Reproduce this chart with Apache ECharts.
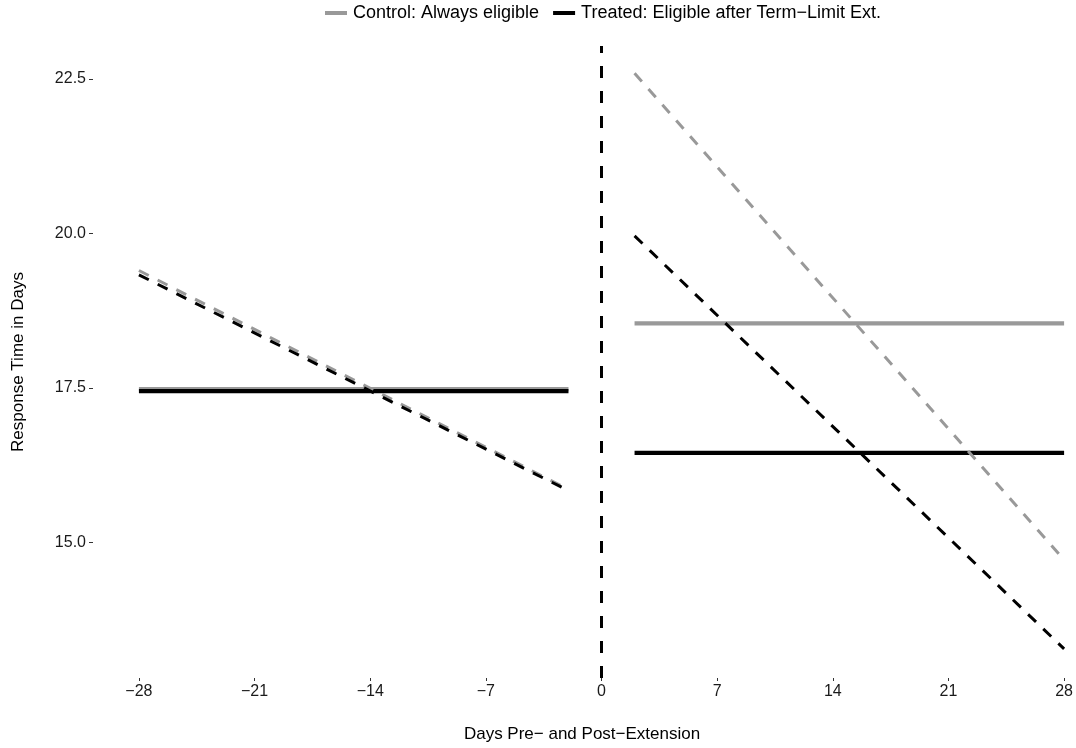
<!DOCTYPE html>
<html>
<head>
<meta charset="utf-8">
<script src="https://cdn.jsdelivr.net/npm/echarts@6/dist/echarts.min.js"></script>
<style>
html,body{margin:0;padding:0;background:#fff;}
#chart{width:1076px;height:748px;}
</style>
</head>
<body>
<div id="chart"></div>
<script>
// ---- data ----
var xTicks = [-28, -21, -14, -7, 0, 7, 14, 21, 28];
var yTicks = [15, 17.5, 20, 22.5];
var preDays = [-28, -2];
var postDays = [2, 28];
var cutoffDay = 0;

var controlName = 'Control: Always eligible';
var treatedName = 'Treated: Eligible after Term\u2212Limit Ext.';

// group means (flat) and linear trends (dashed), pre and post
var preControlMean = [17.48, 17.48];
var preTreatedMean = [17.45, 17.45];
var preControlTrend = [19.40, 15.86];
var preTreatedTrend = [19.33, 15.84];
var postControlMean = [18.545, 18.545];
var postTreatedMean = [16.45, 16.45];
var postControlTrend = [22.59, 14.72];
var postTreatedTrend = [19.96, 13.28];

function pts(xs, ys) { return xs.map(function (x, i) { return [x, ys[i]]; }); }

var GRAY = '#999999', BLACK = '#000000';
var FONT = 'Liberation Sans, Arial, Helvetica, sans-serif';

function seg(name, xs, ys, color, dashed) {
  return {
    type: 'line', name: name, data: pts(xs, ys), symbol: 'none', silent: true,
    lineStyle: { color: color, width: dashed ? 3 : 4.2, type: dashed ? [11, 10] : 'solid', cap: 'butt' },
    itemStyle: { color: color },
    emphasis: { disabled: true },
    animation: false
  };
}

var series = [
  seg(controlName, preDays, preControlMean, GRAY, false),
  seg(treatedName, preDays, preTreatedMean, BLACK, false),
  seg(controlName, postDays, postControlMean, GRAY, false),
  seg(treatedName, postDays, postTreatedMean, BLACK, false),
  seg(controlName, preDays, preControlTrend, GRAY, true),
  seg(treatedName, preDays, preTreatedTrend, BLACK, true),
  seg(controlName, postDays, postControlTrend, GRAY, true),
  seg(treatedName, postDays, postTreatedTrend, BLACK, true)
];
series[0].markLine = {
  silent: true, symbol: 'none', animation: false,
  label: { show: false },
  lineStyle: { color: BLACK, width: 3, type: [12, 13], cap: 'butt' },
  data: [{ xAxis: cutoffDay }]
};

var chart = echarts.init(document.getElementById('chart'), null, { renderer: 'canvas' });
chart.setOption({
  backgroundColor: '#ffffff',
  animation: false,
  textStyle: { fontFamily: FONT },
  legend: {
    data: [
      { name: controlName, icon: 'rect', itemStyle: { color: GRAY } },
      { name: treatedName, icon: 'rect', itemStyle: { color: BLACK } }
    ],
    left: 325, top: 4, padding: 0,
    itemWidth: 22, itemHeight: 4, itemGap: 14,
    selectedMode: false,
    textStyle: { fontSize: 18, color: '#000', fontFamily: FONT, padding: [0, 0, 0, 1] }
  },
  grid: { left: 93, right: 4, top: 46, bottom: 67 },
  xAxis: {
    type: 'value', min: -30.78, max: 28.42,
    name: 'Days Pre\u2212 and Post\u2212Extension',
    nameLocation: 'middle', nameGap: 48,
    nameTextStyle: { fontSize: 17, color: '#000', fontFamily: FONT },
    axisLine: { show: false, onZero: false },
    splitLine: { show: false },
    axisTick: { show: true, length: 3, customValues: xTicks, lineStyle: { color: '#333', width: 1 } },
    axisLabel: {
      customValues: xTicks, margin: 6, fontSize: 16, color: '#1a1a1a', fontFamily: FONT,
      formatter: function (v) { return String(v).replace('-', '\u2212'); }
    }
  },
  yAxis: {
    type: 'value', min: 12.81, max: 23.03,
    name: 'Response Time in Days',
    nameLocation: 'middle', nameGap: 66,
    nameTextStyle: { fontSize: 17, color: '#000', fontFamily: FONT },
    axisLine: { show: false, onZero: false },
    splitLine: { show: false },
    axisTick: { show: true, length: 4, customValues: yTicks, lineStyle: { color: '#333', width: 1 } },
    axisLabel: {
      customValues: yTicks, margin: 7, fontSize: 16, color: '#1a1a1a', fontFamily: FONT,
      formatter: function (v) { return v.toFixed(1); }
    }
  },
  series: series
});
</script>
</body>
</html>
